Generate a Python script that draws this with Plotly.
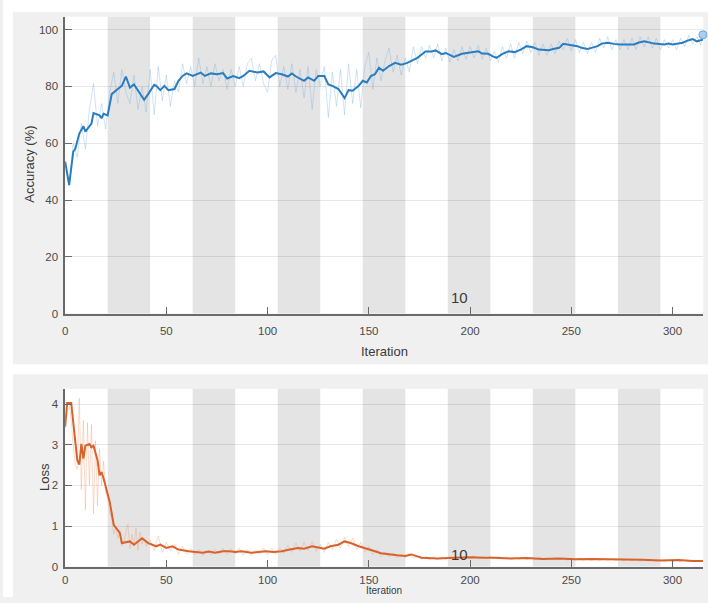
import plotly.graph_objects as go

# ---------------- data ----------------
ITERS_PER_EPOCH = 21
N_EPOCHS = 15
EPOCH_TEXT = "10"

acc_smooth_iter = [0, 2, 4, 5, 7, 9, 10, 13, 14, 17, 18, 19, 21, 23, 26, 28, 30, 32, 34, 37,
                   39, 41, 44, 45, 47, 49, 51, 54, 56, 58, 60, 63, 67, 69, 72, 75, 78, 80, 83, 86,
                   88, 91, 95, 98, 101, 104, 107, 110, 112, 114, 118, 120, 123, 125, 128, 130, 132, 135, 138, 140,
                   142, 145, 147, 149, 151, 153, 155, 157, 160, 163, 166, 169, 174, 178, 181, 183, 186, 188, 192, 196,
                   199, 204, 206, 209, 211, 213, 216, 219, 222, 225, 228, 231, 234, 239, 241, 244, 246, 248, 250, 253,
                   255, 258, 260, 263, 265, 268, 271, 274, 281, 283, 286, 288, 291, 296, 298, 300, 303, 305, 308, 310,
                   312, 314, 315]
acc_smooth = [53.5, 45.3, 57, 58, 63.4, 66, 64.1, 66.9, 70.6, 69.8, 68.8, 70.4, 69.8, 77.3, 79.1, 80.2, 83.5, 79.6, 80.7, 77.3,
              75.3, 77.3, 80.6, 80.2, 78.7, 80.2, 78.7, 79.1, 82, 83.7, 84.6, 83.7, 84.9, 83.7, 84.6, 84.3, 84.7, 82.8, 83.7, 82.9,
              83.7, 85.5, 84.9, 85.3, 83.2, 84.7, 84.3, 83.5, 84.6, 83.5, 82, 83.2, 82, 83.7, 83.7, 80.7, 80.2, 79.1, 75.9, 78.7,
              78.5, 80.2, 82, 81.4, 83.7, 84.3, 86.6, 85.5, 87.2, 88.3, 87.7, 88.3, 90.1, 92.3, 92.3, 92.7, 91.4, 91.8, 90.4, 91.5,
              91.8, 92.4, 91.6, 91.5, 90.7, 90.1, 91.5, 92.4, 92.1, 93, 94.2, 93.8, 93, 92.8, 93.2, 93.6, 95, 94.8, 94.4, 94.2,
              93.6, 93.2, 93.6, 94.2, 95.1, 95.4, 95, 94.8, 94.8, 95.4, 95.9, 95.6, 95.1, 94.8, 95.1, 94.8, 95.1, 95.4, 96.3, 96.7,
              95.9, 96.2, 96.5]

acc_raw_iter = list(range(0, 316, 2)) + [315]
acc_raw = [54, 45, 60, 55, 67, 58, 72, 81, 66, 74,
           65, 78, 85, 74, 86, 78, 74, 84, 72, 80,
           71, 86, 70, 87, 75, 84, 73, 82, 78, 88,
           81, 87, 80, 90, 81, 87, 80, 88, 82, 86,
           79, 86, 80, 87, 80, 88, 90, 82, 88, 81,
           78, 89, 91, 80, 87, 79, 88, 78, 86, 76,
           87, 72, 86, 80, 87, 69, 85, 73, 86, 70,
           88, 74, 86, 72.5, 87, 92, 79, 90, 82, 89,
           93.5, 85, 91, 84, 90, 85, 94, 88, 94, 90,
           94.5, 90, 95, 89, 93.5, 88.5, 93, 89, 94, 89.5,
           94, 90, 94.5, 89.5, 93.5, 89, 92.5, 88.5, 94, 90,
           95, 90, 95.5, 91.5, 96, 92, 95.5, 91, 95, 91,
           95, 91.5, 96, 93, 97, 92.5, 96.5, 92, 95.5, 91.5,
           95.5, 92, 97, 93.5, 97.5, 93, 96.5, 93, 96.5, 93,
           97, 93, 97.5, 94, 97.5, 93.5, 97, 93, 96.5, 93.5,
           96.5, 93, 97, 94, 98, 95, 97.5, 94.5,
           98.2]

loss_smooth_iter = [0, 1, 3, 5, 6, 7, 8, 9, 10, 12, 13, 14, 16, 17, 18, 19, 22, 24, 27, 28,
                    32, 34, 36, 38, 41, 45, 47, 50, 53, 56, 61, 64, 68, 71, 74, 78, 81, 84, 87, 92,
                    96, 99, 103, 107, 111, 115, 118, 122, 125, 128, 131, 135, 138, 141, 145, 148, 153, 156, 160, 164,
                    168, 171, 176, 180, 184, 189, 194, 198, 201, 206, 212, 220, 228, 236, 244, 252, 260, 268, 277, 285,
                    294, 303, 310, 315]
loss_smooth = [3.45, 4.03, 4.03, 3.1, 2.62, 2.51, 3.02, 2.66, 2.98, 3.02, 2.94, 2.98, 2.62, 2.25, 2.33, 2.17, 1.6, 1.03, 0.83, 0.58,
               0.62, 0.54, 0.62, 0.7, 0.58, 0.5, 0.54, 0.46, 0.5, 0.42, 0.38, 0.36, 0.34, 0.37, 0.34, 0.38, 0.38, 0.36, 0.38, 0.34,
               0.37, 0.38, 0.36, 0.38, 0.42, 0.46, 0.44, 0.5, 0.47, 0.44, 0.5, 0.54, 0.62, 0.58, 0.5, 0.46, 0.38, 0.33, 0.3, 0.28,
               0.26, 0.3, 0.22, 0.21, 0.2, 0.21, 0.22, 0.21, 0.23, 0.22, 0.22, 0.2, 0.21, 0.19, 0.2, 0.18, 0.19, 0.18, 0.18, 0.17,
               0.15, 0.16, 0.14, 0.14]

loss_raw_iter = list(range(0, 41)) + list(range(42, 316, 2)) + [315]
loss_raw = [3.4, 4.0, 4.0, 3.6, 3.0, 2.5, 2.4, 4.15, 1.9, 3.6, 1.4, 3.55, 2.0, 3.5, 1.3, 3.1, 1.5, 2.9, 2.0, 2.6,
            1.8, 1.7, 1.3, 1.2, 0.8, 1.0, 0.7, 0.9, 0.5, 0.6, 0.85, 1.05, 0.45, 0.8, 0.5, 0.95, 0.4, 0.85, 0.55, 0.7,
            0.5,
            0.65, 0.4, 0.75, 0.35, 0.6, 0.4, 0.55, 0.3, 0.5, 0.3,
            0.45, 0.28, 0.42, 0.27, 0.4, 0.28, 0.42, 0.3, 0.45, 0.3,
            0.44, 0.3, 0.45, 0.28, 0.42, 0.27, 0.4, 0.3, 0.46, 0.3,
            0.45, 0.3, 0.47, 0.32, 0.52, 0.35, 0.58, 0.38, 0.6, 0.4,
            0.62, 0.38, 0.55, 0.35, 0.6, 0.42, 0.68, 0.45, 0.72, 0.5,
            0.7, 0.42, 0.6, 0.35, 0.5, 0.3, 0.42, 0.25, 0.36, 0.24,
            0.33, 0.22, 0.3, 0.22, 0.33, 0.2, 0.26, 0.18, 0.25, 0.17,
            0.24, 0.17, 0.24, 0.18, 0.26, 0.19, 0.25, 0.2, 0.26, 0.2,
            0.27, 0.19, 0.25, 0.2, 0.26, 0.21, 0.25, 0.19, 0.24, 0.18,
            0.23, 0.18, 0.22, 0.17, 0.22, 0.17, 0.23, 0.18, 0.22, 0.17,
            0.22, 0.17, 0.21, 0.16, 0.21, 0.16, 0.21, 0.16, 0.2, 0.15,
            0.2, 0.15, 0.2, 0.15, 0.19, 0.15, 0.19, 0.14, 0.19, 0.14,
            0.18, 0.13, 0.18, 0.13, 0.17, 0.13, 0.17, 0.12, 0.17, 0.12,
            0.16, 0.12, 0.16, 0.12, 0.16, 0.12, 0.15,
            0.14]

acc_ticks = [0, 20, 40, 60, 80, 100]
loss_ticks = [0, 1, 2, 3, 4]
iter_ticks = [0, 50, 100, 150, 200, 250, 300]

# ---------------- styling / layout ----------------
W, H = 708, 603
FONT = "Liberation Sans, Arial, sans-serif"
TICK_COLOR = "#4a4a4a"
AXIS_COLOR = "#6a6a6a"
PANEL = "#f0f0f0"
BAND = "#e4e4e4"

def px_x(p):
    return p / W

def px_y(p):
    return (H - p) / H

x_dom = [px_x(62.4), px_x(703.3)]
top_dom = [px_y(316.7), px_y(16.8)]
bot_dom = [px_y(572.3), px_y(392.7)]
x_max = ITERS_PER_EPOCH * N_EPOCHS + 0.2

fig = go.Figure()

fig.add_trace(go.Scatter(x=acc_raw_iter, y=acc_raw, mode="lines",
                         line=dict(color="rgba(120,175,225,0.35)", width=1),
                         xaxis="x", yaxis="y", showlegend=False, hoverinfo="skip"))
fig.add_trace(go.Scatter(x=acc_smooth_iter, y=acc_smooth, mode="lines",
                         line=dict(color="#2a7cc0", width=2),
                         xaxis="x", yaxis="y", showlegend=False))
fig.add_trace(go.Scatter(x=[acc_raw_iter[-1]], y=[acc_raw[-1]], mode="markers",
                         marker=dict(size=8, color="rgba(150,195,235,0.8)",
                                     line=dict(color="rgba(90,150,210,0.8)", width=1)),
                         xaxis="x", yaxis="y", showlegend=False, cliponaxis=False))

fig.add_trace(go.Scatter(x=loss_raw_iter, y=loss_raw, mode="lines",
                         line=dict(color="rgba(240,160,120,0.38)", width=1),
                         xaxis="x2", yaxis="y2", showlegend=False, hoverinfo="skip"))
fig.add_trace(go.Scatter(x=loss_smooth_iter, y=loss_smooth, mode="lines",
                         line=dict(color="#d9612a", width=2),
                         xaxis="x2", yaxis="y2", showlegend=False))

shapes = []
# white strips around the grey panels
shapes.append(dict(type="rect", xref="paper", yref="paper", x0=0, x1=1, y0=px_y(12), y1=1,
                   fillcolor="white", line_width=0, layer="below"))
shapes.append(dict(type="rect", xref="paper", yref="paper", x0=0, x1=px_x(10), y0=0, y1=1,
                   fillcolor="white", line_width=0, layer="below"))
shapes.append(dict(type="rect", xref="paper", yref="paper", x0=0, x1=1, y0=px_y(378), y1=px_y(368),
                   fillcolor="white", line_width=0, layer="below"))
# epoch bands (every other epoch shaded)
for e in range(1, N_EPOCHS, 2):
    a, b = e * ITERS_PER_EPOCH, (e + 1) * ITERS_PER_EPOCH
    for xr, yr in (("x", "y domain"), ("x2", "y2 domain")):
        shapes.append(dict(type="rect", xref=xr, yref=yr, x0=a, x1=b, y0=0, y1=1,
                           fillcolor=BAND, line_width=0, layer="below"))

axis_common = dict(showline=True, linecolor=AXIS_COLOR, linewidth=1.5, ticks="inside",
                   ticklen=7, tickwidth=1.2, tickcolor=AXIS_COLOR, zeroline=False,
                   tickfont=dict(family=FONT, size=11.5, color=TICK_COLOR), mirror=False)

fig.update_layout(
    width=W, height=H, margin=dict(l=0, r=0, t=0, b=0),
    paper_bgcolor=PANEL, plot_bgcolor="white",
    shapes=shapes,
    xaxis=dict(domain=x_dom, anchor="y", range=[0, x_max], tickvals=iter_ticks,
               showgrid=False, ticklabelstandoff=6, **axis_common),
    yaxis=dict(domain=top_dom, anchor="x", range=[0, 104.6], tickvals=acc_ticks,
               showgrid=True, gridcolor="rgba(0,0,0,0.09)", gridwidth=1,
               ticklabelstandoff=3, **axis_common),
    xaxis2=dict(domain=x_dom, anchor="y2", range=[0, x_max], tickvals=iter_ticks,
                showgrid=False, ticklabelstandoff=2, **axis_common),
    yaxis2=dict(domain=bot_dom, anchor="x2", range=[0, 4.38], tickvals=loss_ticks,
                showgrid=True, gridcolor="rgba(0,0,0,0.09)", gridwidth=1,
                ticklabelstandoff=3, **axis_common),
    annotations=[
        dict(text="Iteration", xref="paper", yref="paper", x=px_x(382.9), y=px_y(355),
             showarrow=False, font=dict(family=FONT, size=13, color="#3a3a3a"),
             xanchor="center", yanchor="middle"),
        dict(text="Iteration", xref="paper", yref="paper", x=px_x(382.9), y=0,
             showarrow=False, font=dict(family=FONT, size=10, color="#3a3a3a"),
             xanchor="center", yanchor="bottom", borderpad=0),
        dict(text="Accuracy (%)", xref="paper", yref="paper", x=px_x(26.5), y=px_y(166),
             textangle=-90, showarrow=False, font=dict(family=FONT, size=13, color="#3a3a3a"),
             xanchor="center", yanchor="middle"),
        dict(text="Loss", xref="paper", yref="paper", x=px_x(41), y=px_y(482),
             textangle=-90, showarrow=False, font=dict(family=FONT, size=13, color="#3a3a3a"),
             xanchor="center", yanchor="middle"),
        dict(text=EPOCH_TEXT, xref="x", yref="y", x=195, y=5.5, showarrow=False,
             font=dict(family=FONT, size=15, color="#3a3a3a"), xanchor="center", yanchor="middle"),
        dict(text=EPOCH_TEXT, xref="x2", yref="y2", x=195, y=0.3, showarrow=False,
             font=dict(family=FONT, size=15, color="#3a3a3a"), xanchor="center", yanchor="middle"),
    ],
)

fig.write_html("out.html")
